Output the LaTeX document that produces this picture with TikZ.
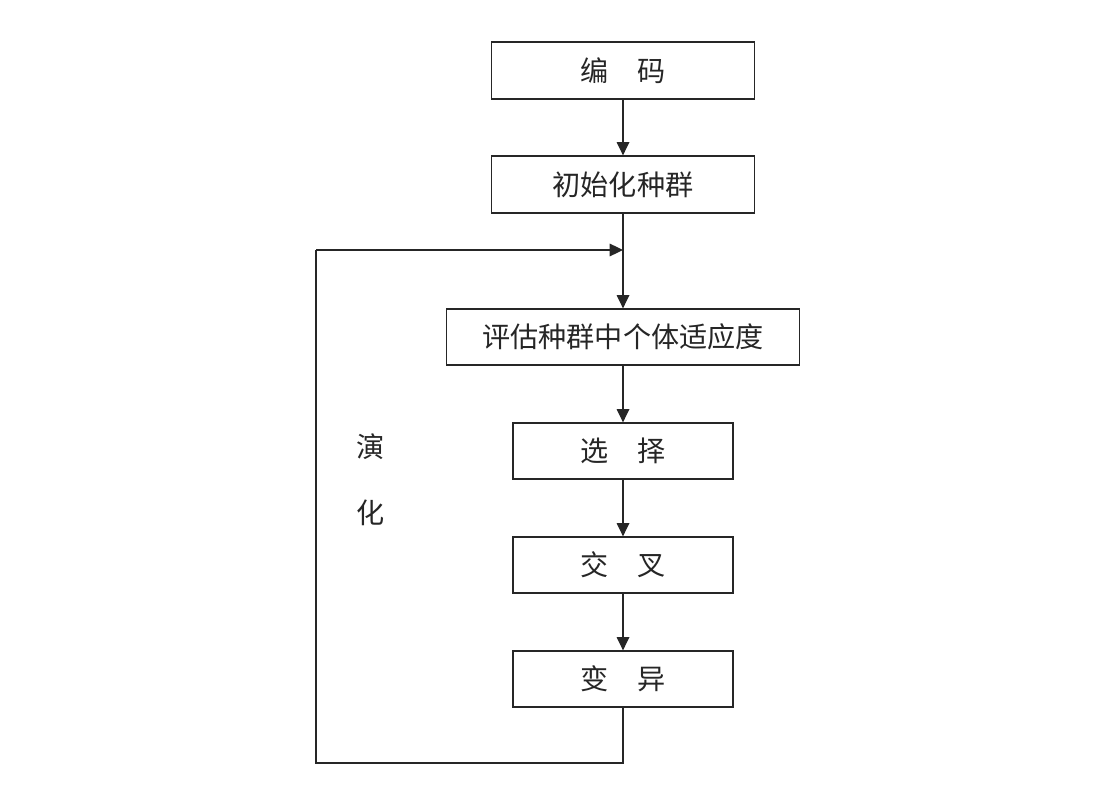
\documentclass[tikz,border=0pt]{standalone}
\usepackage{fontspec}
\newfontfamily\cjk{Noto Sans CJK SC}
\usetikzlibrary{arrows.meta}
\begin{document}
\begin{tikzpicture}[x=0.025cm,y=-0.025cm,
  box/.style={draw=black!85, line width=0.9pt, fill=white, inner sep=0pt, font=\cjk\fontsize{20}{22}\selectfont, text=black!85},
  flow/.style={draw=black!85, line width=0.9pt, -{Triangle[length=9.5pt,width=9pt]}},
  plain/.style={draw=black!85, line width=0.9pt}]
\useasboundingbox (0,0) rectangle (1098,800);
\node[box, minimum width=263*0.025cm, minimum height=57*0.025cm] (enc) at (623,70.5) {编\hspace{1.05em}码};
\node[box, minimum width=263*0.025cm, minimum height=57*0.025cm] (init) at (623,184.5) {初始化种群};
\node[box, minimum width=353*0.025cm, minimum height=56*0.025cm] (eval) at (623,337) {评估种群中个体适应度};
\node[box, minimum width=220*0.025cm, minimum height=56*0.025cm] (sel) at (623,451) {选\hspace{1.05em}择};
\node[box, minimum width=220*0.025cm, minimum height=56*0.025cm] (cross) at (623,565) {交\hspace{1.05em}叉};
\node[box, minimum width=220*0.025cm, minimum height=56*0.025cm] (mut) at (623,679) {变\hspace{1.05em}异};
\node[font=\cjk\fontsize{20}{22}\selectfont, text=black!85] (l1) at (371,447) {演};
\node[font=\cjk\fontsize{20}{22}\selectfont, text=black!85] (l2) at (371,513) {化};
\coordinate (j) at (623,250);
\coordinate (c1) at (623,763);
\coordinate (c2) at (316,763);
\coordinate (c3) at (316,250);
\draw[flow] (enc.south) -- (init.north);
\draw[flow] (init.south) -- (eval.north);
\draw[flow] (eval.south) -- (sel.north);
\draw[flow] (sel.south) -- (cross.north);
\draw[flow] (cross.south) -- (mut.north);
\draw[plain] (mut.south) -- (c1) -- (c2) -- (c3);
\draw[flow] (c3) -- (j);
\end{tikzpicture}
\end{document}
